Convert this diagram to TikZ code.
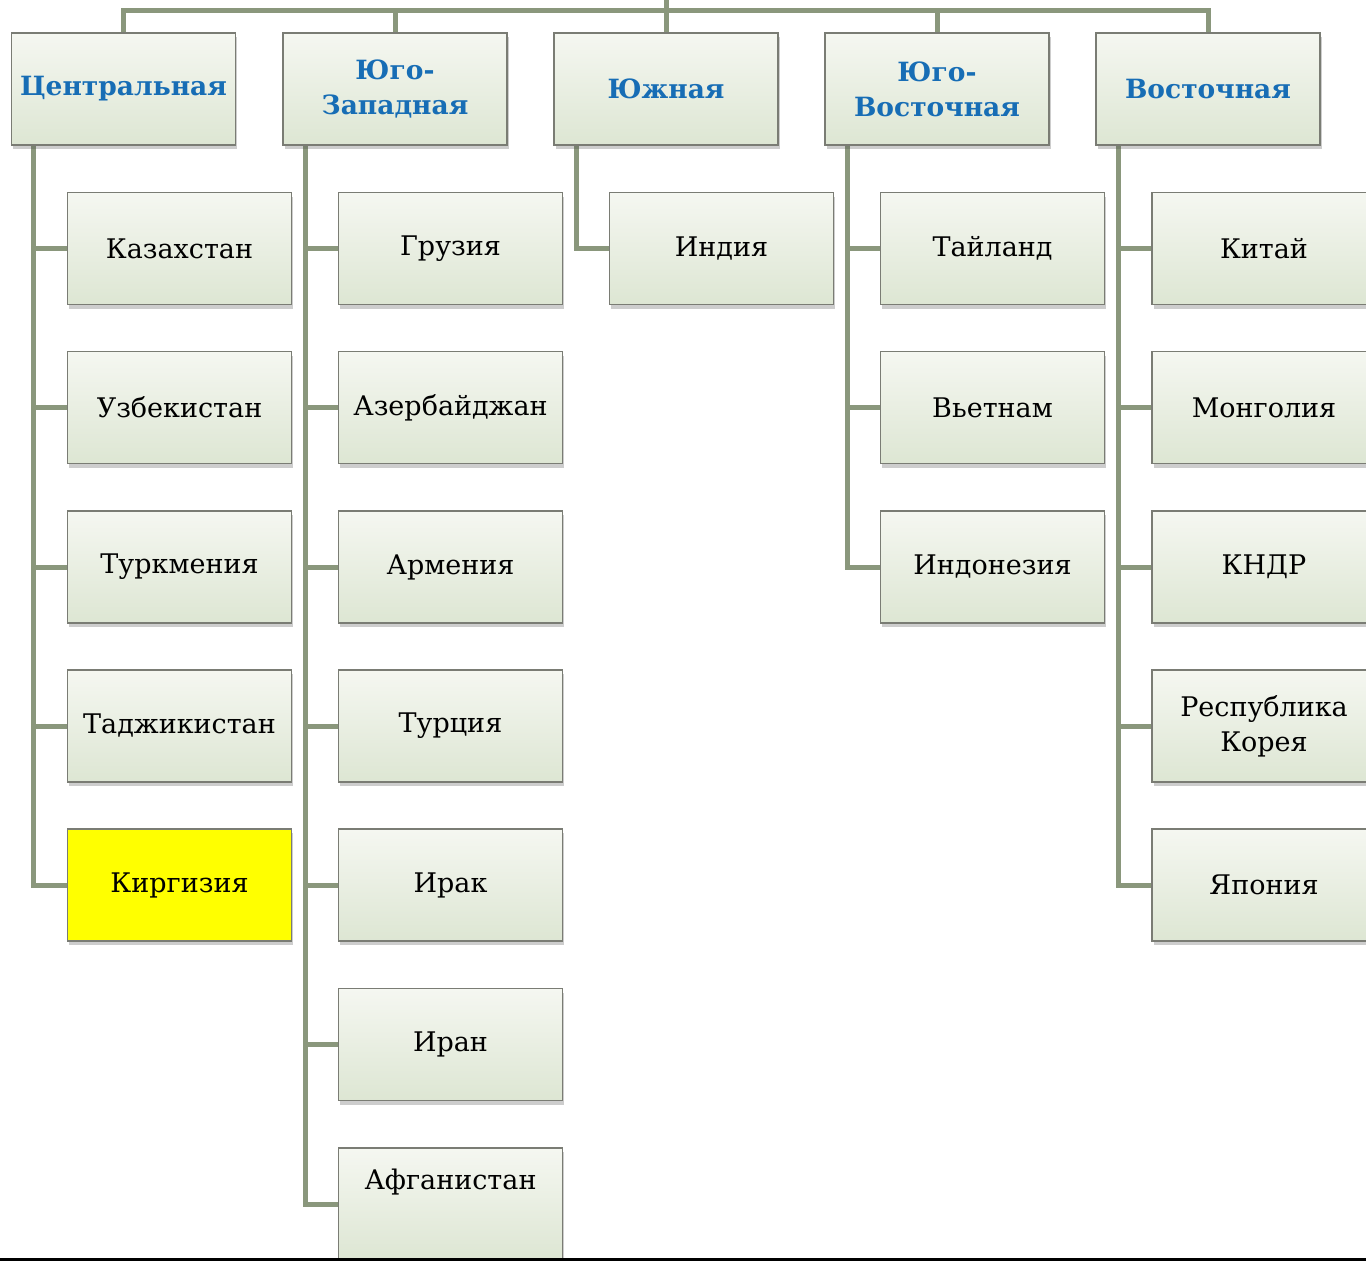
\documentclass[tikz,border=0pt]{standalone}
\usepackage{fontspec}
\setmainfont{DejaVu Serif}
\usetikzlibrary{shadows,backgrounds}
\definecolor{conn}{RGB}{138,151,124}
\definecolor{boxline}{RGB}{122,124,116}
\definecolor{boxtop}{RGB}{245,247,241}
\definecolor{boxbot}{RGB}{221,230,211}
\definecolor{headblue}{RGB}{23,109,181}
\tikzset{
  connline/.style={draw=conn, line width=5pt},
  basebox/.style={rectangle, draw=boxline, line width=1.3pt, minimum width=224pt, minimum height=112pt,
     top color=boxtop, bottom color=boxbot, align=center, inner sep=2pt,
     drop shadow={shadow xshift=1.5pt, shadow yshift=-4pt, opacity=0.28, fill=black!70}},
  headbox/.style={basebox, text=headblue, font=\fontsize{26.5}{35}\selectfont\bfseries},
  childbox/.style={basebox, text=black, font=\fontsize{27}{35}\selectfont},
  yellowbox/.style={childbox, top color=yellow, bottom color=yellow, fill=yellow},
}
\begin{document}
\begin{tikzpicture}[x=1pt,y=-1pt]
\useasboundingbox (0,0) rectangle (1366,1261);
\clip (0,0) rectangle (1366,1261);
% coordinates
\coordinate (root) at (666,0);
\coordinate (bus) at (666,10);
\coordinate (edgeL) at (0,1259.5);
\coordinate (edgeR) at (1366,1259.5);
% headers
\node[headbox] (h1) at (123.5,89) {Центральная};
\node[headbox] (h2) at (395,89) {Юго-\\Западная};
\node[headbox] (h3) at (666,89) {Южная};
\node[headbox] (h4) at (937,89) {Юго-\\Восточная};
\node[headbox] (h5) at (1208,89) {Восточная};
% children column 1
\node[childbox] (c11) at (179.5,248.5) {Казахстан};
\node[childbox] (c12) at (179.5,407.5) {Узбекистан};
\node[childbox] (c13) at (179.5,567) {Туркмения};
\node[childbox] (c14) at (179.5,726) {Таджикистан};
\node[yellowbox] (c15) at (179.5,885) {Киргизия};
% column 2
\node[childbox] (c21) at (450.5,248.5) {Грузия};
\node[childbox] (c22) at (450.5,407.5) {Азербайджан};
\node[childbox] (c23) at (450.5,567) {Армения};
\node[childbox] (c24) at (450.5,726) {Турция};
\node[childbox] (c25) at (450.5,885) {Ирак};
\node[childbox] (c26) at (450.5,1044.5) {Иран};
\node[childbox, text height=20pt, text depth=50pt] (c27) at (450.5,1204) {Афганистан};
% column 3
\node[childbox] (c31) at (721.5,248.5) {Индия};
% column 4
\node[childbox] (c41) at (992.5,248.5) {Тайланд};
\node[childbox] (c42) at (992.5,407.5) {Вьетнам};
\node[childbox] (c43) at (992.5,567) {Индонезия};
% column 5
\node[childbox] (c51) at (1264,248.5) {Китай};
\node[childbox] (c52) at (1264,407.5) {Монголия};
\node[childbox] (c53) at (1264,567) {КНДР};
\node[childbox] (c54) at (1264,726) {Республика\\Корея};
\node[childbox] (c55) at (1264,885) {Япония};
% connectors (behind boxes)
\begin{pgfonlayer}{background}
\fill[white] (0,0) rectangle (1366,1261);
\draw[connline] (root) -- (bus);
\draw[connline, line join=miter] (h1.north) |- (bus) -| (h5.north);
\draw[connline] (h2.north) -- (h2.north |- bus);
\draw[connline] (h3.north) -- (h3.north |- bus);
\draw[connline] (h4.north) -- (h4.north |- bus);
\foreach \c in {c11,c12,c13,c14,c15}
  \draw[connline, line join=miter] ([xshift=23pt]h1.south west) |- (\c.west);
\foreach \c in {c21,c22,c23,c24,c25,c26,c27}
  \draw[connline, line join=miter] ([xshift=23pt]h2.south west) |- (\c.west);
\foreach \c in {c31}
  \draw[connline, line join=miter] ([xshift=23pt]h3.south west) |- (\c.west);
\foreach \c in {c41,c42,c43}
  \draw[connline, line join=miter] ([xshift=23pt]h4.south west) |- (\c.west);
\foreach \c in {c51,c52,c53,c54,c55}
  \draw[connline, line join=miter] ([xshift=23pt]h5.south west) |- (\c.west);
\end{pgfonlayer}
\draw[black, line width=2.5pt] (edgeL) -- (edgeR);
\end{tikzpicture}
\end{document}
